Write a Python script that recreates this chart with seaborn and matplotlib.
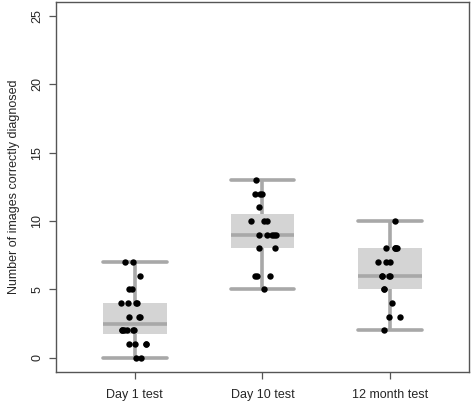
import numpy as np
import pandas as pd
import seaborn as sns
import matplotlib.pyplot as plt

# values (one entry per participant)
day1 = [0, 0, 1, 1, 1, 1, 2, 2, 2, 2, 2, 2, 3, 3, 3, 4, 4, 4, 4, 5, 5, 6, 7, 7]
day10 = [5, 6, 6, 6, 8, 8, 9, 9, 9, 9, 9, 10, 10, 10, 11, 12, 12, 12, 13]
month12 = [2, 3, 3, 4, 5, 5, 6, 6, 6, 6, 7, 7, 7, 8, 8, 8, 8, 8, 10]
groups = ["Day 1 test", "Day 10 test", "12 month test"]
yticks = [0, 5, 10, 15, 20, 25]

df = pd.DataFrame({
    "test": [groups[0]] * len(day1) + [groups[1]] * len(day10) + [groups[2]] * len(month12),
    "score": day1 + day10 + month12,
})

sns.set_style("ticks")
plt.rcParams["font.family"] = ["Liberation Sans", "DejaVu Sans"]

fig = plt.figure(figsize=(4.72, 4.03), dpi=100)
ax = fig.add_axes([0.118, 0.077, 0.876, 0.919])

line_grey = "#a8a8a8"
sns.boxplot(
    data=df, x="test", y="score", order=groups, ax=ax,
    whis=(0, 100), width=0.5, capwidths=0.5,
    color="#d4d4d4", linecolor=line_grey, linewidth=2.6,
    boxprops={"edgecolor": "#d4d4d4", "linewidth": 0},
    showfliers=False,
)
np.random.seed(3)
sns.stripplot(
    data=df, x="test", y="score", order=groups, ax=ax,
    jitter=0.11, color="black", size=4.6, linewidth=0,
)

# x positions 0..2 -> reference spans 0.38..3.62 in R units
ax.set_xlim(-0.62, 2.62)
ax.set_ylim(-1.04, 26.04)
ax.set_yticks(yticks)
ax.set_yticklabels([str(t) for t in yticks], rotation=90, va="center")
ax.set_xlabel("")
ax.set_ylabel("Number of images correctly diagnosed", fontsize=9, labelpad=8)
ax.tick_params(axis="both", labelsize=9, length=5, color="#555555", width=0.9)
ax.tick_params(axis="x", pad=7)
ax.tick_params(axis="y", pad=4)
for s in ax.spines.values():
    s.set_visible(True)
    s.set_color("#555555")
    s.set_linewidth(1.0)

fig.savefig("out.png", dpi=100)
